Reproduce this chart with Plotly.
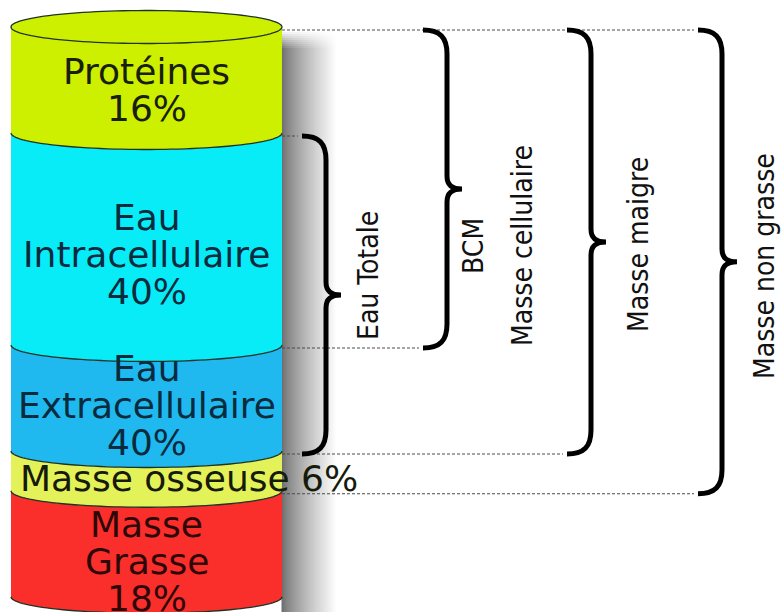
import numpy as np
import plotly.graph_objects as go

# ---- body composition column -------------------------------------------
components = ["Protéines", "Eau Intracellulaire", "Eau Extracellulaire",
              "Masse osseuse", "Masse Grasse"]
label_lines = [["Protéines"], ["Eau", "Intracellulaire"], ["Eau", "Extracellulaire"],
               ["Masse osseuse"], ["Masse", "Grasse"]]
percent = [16, 40, 40, 6, 18]
percent_inline = [False, False, False, True, False]
# height of each slice on the column's own scale (schematic, not to scale)
column_height = [16, 32, 16, 6, 16]

# ---- compartments grouped by braces --------------------------------------
groups = ["Eau Totale", "BCM", "Masse maigre", "Masse non grasse"]
group_subtitle = ["", "Masse cellulaire", "", ""]
group_first = [1, 0, 0, 0]   # first slice covered
group_last = [2, 1, 2, 3]    # last slice covered

# ---- styling -------------------------------------------------------------
fills = ["#cdf000", "#08ecf7", "#1fb9ef", "#e4f25a", "#fa2e2a"]
text_colors = ["#18200a", "#0a2a3e", "#0a2a3e", "#161a08", "#2c0808"]
outline = "#1f3324"
W, H = 783, 612
PX = 6.625            # pixels per unit of column height
TOP_PX = 27           # pixel row of the column top
CX, RX = 146.5, 135.5
RY = 16.5 / PX
LEFT, RIGHT = CX - RX, CX + RX
CYL_FONT = "DejaVu Sans"
SIDE_FONT = "DejaVu Sans Condensed, Liberation Sans, sans-serif"


def yu(px):
    """pixel row -> y axis units"""
    return (px - TOP_PX) / PX


bounds = np.concatenate([[0.0], np.cumsum(column_height)])


def arc(yc, a0, a1, n=60):
    th = np.linspace(a0, a1, n)
    return list(zip(CX + RX * np.cos(th), yc + RY * np.sin(th)))


def to_path(pts, close=False):
    s = "M " + " L ".join(f"{x:.2f},{y:.4f}" for x, y in pts)
    return s + (" Z" if close else "")


shapes = []
annotations = []

# soft drop shadow to the right of the column
ncol = 28
for i in range(ncol):
    t = i / (ncol - 1)
    b = int(round(112 + 143 * t ** 0.8))
    shapes.append(dict(type="rect", xref="x", yref="y",
                       x0=RIGHT + i * 2 - 0.5, x1=RIGHT + i * 2 + 2,
                       y0=yu(32), y1=yu(H + 5),
                       fillcolor=f"rgb({b},{b},{b})", line=dict(width=0)))
for k in range(9):
    shapes.append(dict(type="rect", xref="x", yref="y",
                       x0=RIGHT - 1, x1=RIGHT + ncol * 2 + 2,
                       y0=yu(30 + 2 * k), y1=yu(32 + 2 * k),
                       fillcolor="white", opacity=1 - k / 9, line=dict(width=0)))

# column slices
for i in range(len(column_height)):
    t, b = bounds[i], bounds[i + 1]
    pts = [(LEFT, t), (LEFT, b)] + arc(b, np.pi, 0) + [(RIGHT, t)] + arc(t, 0, np.pi)
    shapes.append(dict(type="path", xref="x", yref="y", path=to_path(pts, True),
                       fillcolor=fills[i], line=dict(width=0)))

# top face of the column
shapes.append(dict(type="path", xref="x", yref="y",
                   path=to_path(arc(0, 0, 2 * np.pi, 120), True),
                   fillcolor=fills[0], line=dict(color=outline, width=1.3)))
# front edges between slices
for b in bounds[1:]:
    shapes.append(dict(type="path", xref="x", yref="y",
                       path=to_path(arc(b, np.pi, 0)),
                       fillcolor="rgba(0,0,0,0)", line=dict(color=outline, width=1.3)))

# slice labels
line_step = 37 / PX
text_nudge_px = [-7, -1, -9, -9, 1.5]
text_x = [CX, CX, CX, 188.5, CX]
for i, lines in enumerate(label_lines):
    lines = list(lines)
    if percent_inline[i]:
        lines[-1] = f"{lines[-1]} {percent[i]}%"
    else:
        lines.append(f"{percent[i]}%")
    yc = (bounds[i] + bounds[i + 1]) / 2 + RY + text_nudge_px[i] / PX
    for j, s in enumerate(lines):
        yj = yc + (j - (len(lines) - 1) / 2) * line_step
        annotations.append(dict(x=text_x[i], y=yj, xref="x", yref="y", text=s,
                                showarrow=False, xanchor="center", yanchor="middle",
                                font=dict(family=CYL_FONT, size=36, color=text_colors[i])))

# braces with dotted guide lines
brace_x0 = [302, 423, 567, 698]
GAP = 3 / PX
guide_end = {}
for g in range(len(groups)):
    for k in (group_first[g], group_last[g] + 1):
        guide_end[k] = max(guide_end.get(k, 0), brace_x0[g])
for k, xe in guide_end.items():
    y = bounds[k] + GAP
    shapes.append(dict(type="line", xref="x", yref="y", x0=RIGHT, x1=xe - 4, y0=y, y1=y,
                       line=dict(color="#4a4a4a", width=1, dash="3px,2px")))


def brace(x0, y0, y1):
    xs, xt = x0 + 24, x0 + 39
    ym = (y0 + y1) / 2
    h, k = 24 / PX, 13 / PX
    return (f"M {x0},{y0:.4f} C {x0 + 17},{y0:.4f} {xs},{y0 + 0.3 * h:.4f} {xs},{y0 + h:.4f} "
            f"L {xs},{ym - k:.4f} C {xs},{ym - 0.3 * k:.4f} {xs + 5},{ym:.4f} {xt},{ym:.4f} "
            f"C {xs + 5},{ym:.4f} {xs},{ym + 0.3 * k:.4f} {xs},{ym + k:.4f} "
            f"L {xs},{y1 - h:.4f} C {xs},{y1 - 0.3 * h:.4f} {x0 + 17},{y1:.4f} {x0},{y1:.4f}")


for g in range(len(groups)):
    y0 = bounds[group_first[g]] + GAP
    y1 = bounds[group_last[g] + 1] + GAP
    shapes.append(dict(type="path", xref="x", yref="y", path=brace(brace_x0[g], y0, y1),
                       fillcolor="rgba(0,0,0,0)", line=dict(color="black", width=5)))

# vertical group names
group_label_x = [368, 473, 638, 764]
group_label_y = [276, 246, 245, 266]
subtitle_x = [None, 522, None, None]
for g, name in enumerate(groups):
    annotations.append(dict(x=group_label_x[g], y=yu(group_label_y[g]), xref="x", yref="y",
                            text=name, textangle=-90, showarrow=False,
                            xanchor="center", yanchor="middle",
                            font=dict(family=SIDE_FONT, size=28, color="#111111")))
    if group_subtitle[g]:
        annotations.append(dict(x=subtitle_x[g], y=yu(group_label_y[g]), xref="x", yref="y",
                                text=group_subtitle[g], textangle=-90, showarrow=False,
                                xanchor="center", yanchor="middle",
                                font=dict(family=SIDE_FONT, size=28, color="#111111")))

fig = go.Figure()
fig.update_layout(
    width=W, height=H,
    margin=dict(l=0, r=0, t=0, b=0, pad=0),
    paper_bgcolor="white", plot_bgcolor="white",
    showlegend=False,
    xaxis=dict(range=[0, W], visible=False, fixedrange=True),
    yaxis=dict(range=[yu(H), yu(0)], visible=False, fixedrange=True),
    shapes=shapes,
    annotations=annotations,
)
fig.write_html("out.html")
